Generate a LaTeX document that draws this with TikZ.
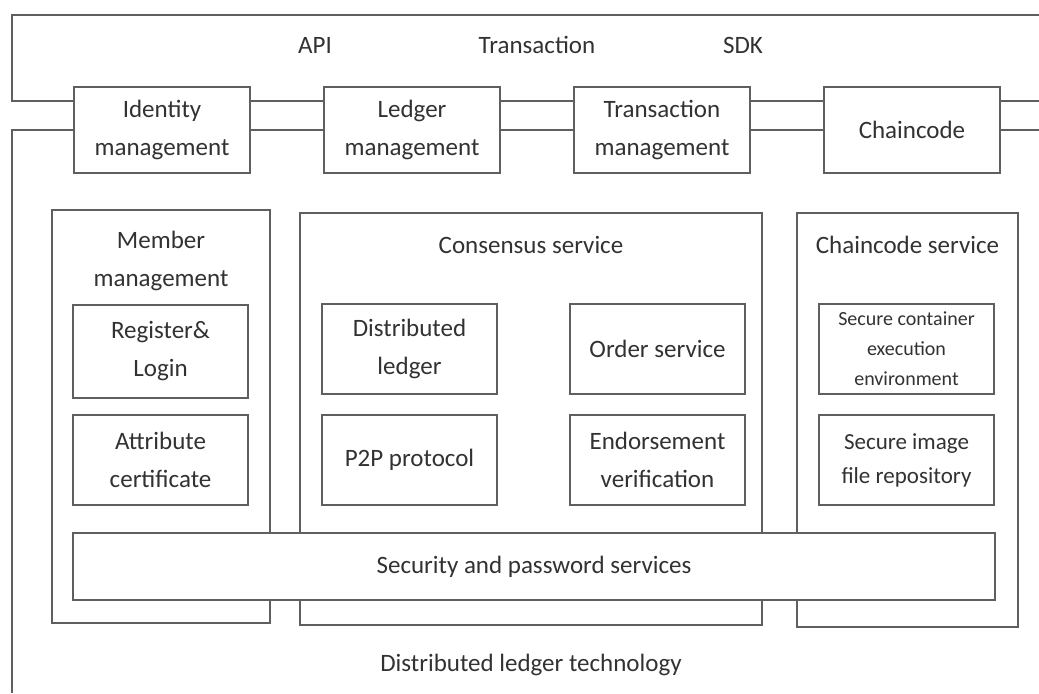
\documentclass[tikz,border=0pt]{standalone}
\usepackage{fontspec}
\setmainfont{Carlito}
\usetikzlibrary{positioning}
\definecolor{framegray}{RGB}{95,95,95}
\definecolor{textgray}{RGB}{50,50,50}

\begin{document}
\begin{tikzpicture}[x=0.5pt,y=-0.5pt,
  box/.style={draw=framegray,line width=1pt,fill=white,align=center,
    inner sep=0pt,text=textgray,font=\fontsize{12.5}{19}\selectfont},
  topbox/.style={box,minimum width=88pt,minimum height=43pt},
  subbox/.style={box,minimum width=87.5pt,minimum height=45pt},
  label/.style={text=textgray,align=center,font=\fontsize{12.5}{19}\selectfont}]
  \useasboundingbox (0,0) rectangle (1039,693);
  % frames behind the boxes
  \coordinate (ftl) at (12,15);
  \coordinate (ftr) at (1039,15);
  \coordinate (fbl) at (12,101);
  \coordinate (fbr) at (1039,101);
  \coordinate (dtl) at (12,130);
  \coordinate (dtr) at (1039,130);
  \coordinate (dbl) at (12,693);
  \draw[framegray,line width=1pt] (ftr) -- (ftl) -- (fbl) -- (fbr);
  \draw[framegray,line width=1pt] (dtr) -- (dtl) -- (dbl);
  \node[label] (api) at (315,45) {API};
  \node[label] (trn) at (537,45) {Transaction};
  \node[label] (sdk) at (743,45) {SDK};
  % top row
  \node[topbox] (idm) at (162,130) {Identity\\management};
  \node[topbox] (ldm) [right=36pt of idm] {Ledger\\management};
  \node[topbox] (tsm) [right=36pt of ldm] {Transaction\\management};
  \node[topbox] (chc) [right=36pt of tsm] {Chaincode};
  % service blocks
  \node[box,minimum width=109pt,minimum height=206.5pt] (mem) at (161,416.5) {};
  \node[box,minimum width=231pt,minimum height=206pt] (cns) at (531,418.5) {};
  \node[box,minimum width=110.5pt,minimum height=207pt] (ccs) at (907.5,419.5) {};
  \node[label] (memt) at (161,261) {Member\\management};
  \node[label] (cnst) at (531,245) {Consensus service};
  \node[label] (ccst) at (907.5,245) {Chaincode service};
  \node[subbox,minimum height=46.5pt] (reg) at (160.5,351.5) {Register\&\\Login};
  \node[subbox] (atc) at (160.5,460) {Attribute\\certificate};
  \node[subbox] (dsl) at (409.5,349) {Distributed\\ledger};
  \node[subbox] (ord) at (657.5,349) {Order service};
  \node[subbox] (p2p) at (409.5,460) {P2P protocol};
  \node[subbox] (end) at (657.5,460) {Endorsement\\verification};
  \node[subbox,font=\fontsize{10}{15}\selectfont] (scn) at (906.5,348.5)
    {Secure container\\execution\\environment};
  \node[subbox,font=\fontsize{11.5}{17}\selectfont] (sim) at (906.5,460)
    {Secure image\\file repository};
  \node[box,minimum width=461pt,minimum height=33.5pt] (sec) at (534,566.5)
    {Security and password services};
  \node[label] (dlt) at (531,665) {Distributed ledger technology};
\end{tikzpicture}
\end{document}
